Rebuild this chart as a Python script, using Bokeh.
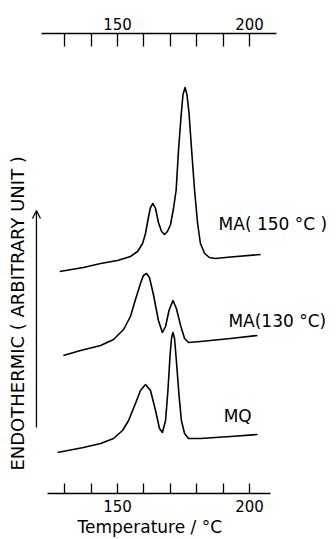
import math
from bokeh.plotting import figure
from bokeh.models import (Range1d, LinearAxis, FixedTicker, Label, Arrow, OpenHead, Title)
from bokeh.embed import file_html
from bokeh.resources import INLINE

# ---- data (temperature in degC, signal in arbitrary units) ----
ma150_T = [128.1, 137.1, 143.6, 150.0, 154.9, 157.6, 159.5, 160.6, 161.7, 162.5,
           163.4, 164.4, 165.5, 166.7, 167.8, 168.9, 170.1, 171.2, 172.2, 173.1,
           174.1, 174.8, 175.6, 176.3, 177.1, 178.0, 179.2, 180.3, 181.4, 183.0,
           184.8, 187.1, 192.8, 204.2]
ma150_y = [22.2, 22.6, 23.0, 23.3, 23.7, 24.2, 25.0, 26.0, 27.6, 28.6,
           29.0, 28.5, 27.1, 26.2, 25.9, 26.2, 26.9, 28.5, 30.3, 34.3,
           37.8, 39.9, 40.6, 39.9, 38.0, 34.6, 30.3, 27.1, 25.0, 24.0,
           23.6, 23.5, 23.65, 23.9]

ma130_T = [129.5, 136.0, 143.6, 148.5, 152.3, 154.9, 156.8, 158.7, 159.8, 161.0,
           162.1, 163.6, 165.5, 167.0, 168.2, 169.5, 171.0, 172.3, 173.9, 175.4,
           176.9, 181.4, 192.8, 203.0]
ma130_y = [13.8, 14.3, 14.8, 15.4, 16.4, 17.7, 19.4, 21.0, 21.8, 22.0,
           21.6, 19.9, 17.3, 16.1, 16.7, 18.3, 19.3, 18.5, 16.8, 15.5,
           15.1, 15.2, 15.5, 15.8]

mq_T = [127.3, 137.1, 143.6, 148.5, 151.9, 154.2, 156.8, 158.7, 160.6, 162.5,
        164.4, 165.9, 167.0, 168.2, 169.1, 169.9, 170.5, 171.0, 171.6, 172.3,
        173.3, 174.2, 175.4, 176.9, 181.4, 192.8, 203.0]
mq_y = [4.1, 4.6, 5.0, 5.5, 6.3, 7.3, 9.0, 10.3, 10.9, 10.3,
        8.3, 6.5, 6.1, 7.3, 10.3, 13.8, 15.6, 16.1, 15.5, 13.3,
        9.8, 7.3, 6.0, 5.5, 5.5, 5.7, 5.9]

curve_labels = ["MA( 150 °C )", "MA(130 °C)", "MQ"]
major_ticks = [150, 200]
minor_ticks = [130, 140, 160, 170, 180, 190]
x_title = "Temperature / °C"
y_title = "ENDOTHERMIC ( ARBITRARY  UNIT )"

FONT = "DejaVu Sans"

p = figure(width=336, height=539, output_backend="svg", toolbar_location=None,
           x_range=Range1d(105.68, 232.95), y_range=Range1d(0, 46),
           x_axis_location="below", y_axis_location=None,
           min_border_left=0, min_border_right=0, min_border_top=33, min_border_bottom=46)
p.outline_line_color = None
p.xgrid.visible = False
p.ygrid.visible = False
p.background_fill_color = "white"
p.border_fill_color = "white"

bottom = p.xaxis[0]
bottom.ticker = FixedTicker(ticks=major_ticks, minor_ticks=minor_ticks)
bottom.bounds = (123.5, 208.0)
bottom.major_tick_in = 10
bottom.major_tick_out = 0
bottom.minor_tick_in = 10
bottom.minor_tick_out = 0
bottom.axis_line_width = 1.5
bottom.major_tick_line_width = 1.3
bottom.minor_tick_line_width = 1.3
bottom.major_label_standoff = 6
bottom.major_label_text_font = FONT
bottom.major_label_text_font_size = "15px"
bottom.major_label_text_color = "black"

p.add_layout(Title(text=x_title, align="left", offset=77, standoff=0,
                   text_font=FONT, text_font_size="17px", text_font_style="normal",
                   text_color="black"), "below")

top = LinearAxis(ticker=FixedTicker(ticks=major_ticks, minor_ticks=minor_ticks))
top.bounds = (121.2, 210.2)
top.major_tick_in = 13
top.major_tick_out = 0
top.minor_tick_in = 13
top.minor_tick_out = 0
top.axis_line_width = 1.5
top.major_tick_line_width = 1.3
top.minor_tick_line_width = 1.3
top.major_label_standoff = 4
top.major_label_text_font = FONT
top.major_label_text_font_size = "15px"
top.major_label_text_color = "black"
p.add_layout(top, "above")

for T, y in [(ma150_T, ma150_y), (ma130_T, ma130_y), (mq_T, mq_y)]:
    p.line(T, y, line_color="black", line_width=1.6, line_join="round")

label_pos = [(188.3, 27.0), (192.0, 17.3), (190.2, 7.8)]
for txt, (lx, ly) in zip(curve_labels, label_pos):
    p.add_layout(Label(x=lx, y=ly, text=txt, text_font=FONT, text_font_size="17px",
                       text_align="left", text_baseline="middle", text_color="black"))

p.add_layout(Label(x=112.1, y=18.3, text=y_title, angle=math.pi / 2,
                   text_font=FONT, text_font_size="18px", text_align="center",
                   text_baseline="middle", text_color="black"))

p.add_layout(Arrow(x_start=119.3, y_start=6.6, x_end=119.3, y_end=28.3,
                   line_width=1.3, line_color="black",
                   end=OpenHead(size=8, line_width=1.3, line_color="black")))

open("out.html", "w").write(file_html(p, INLINE))
